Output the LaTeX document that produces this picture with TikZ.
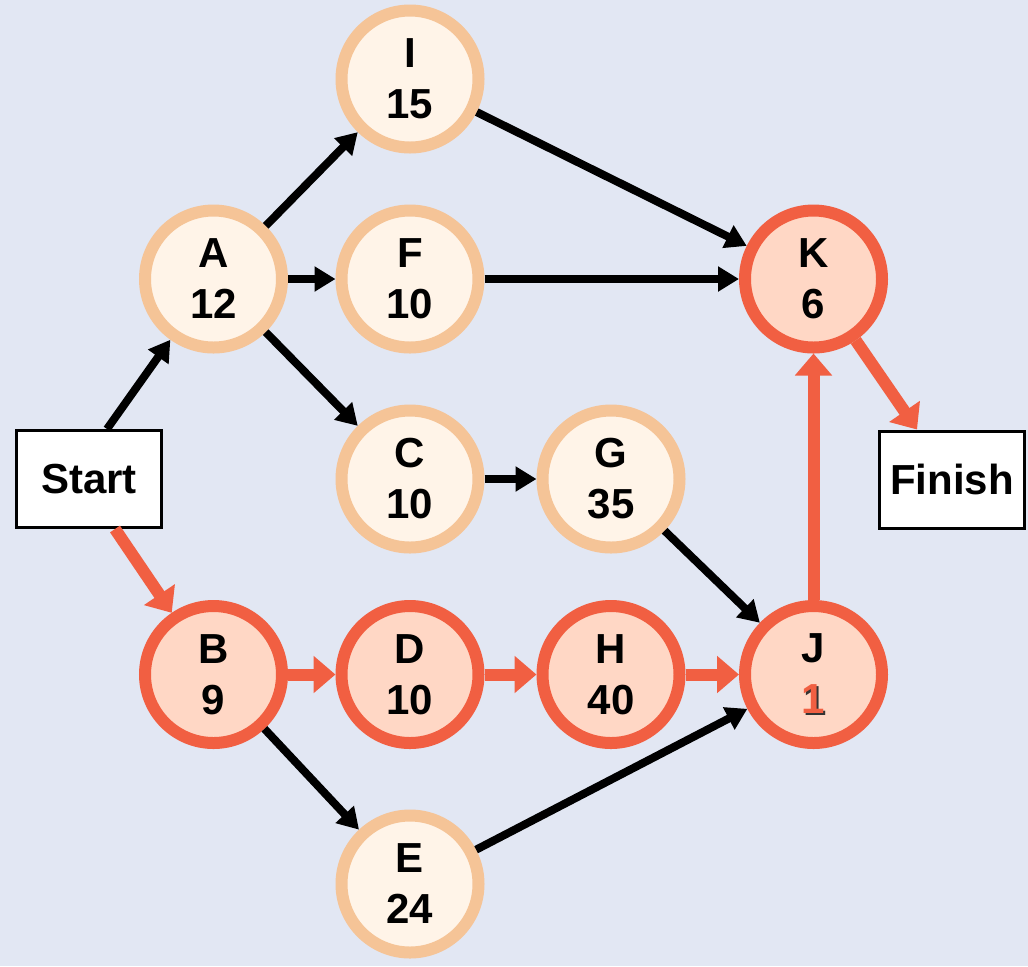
\documentclass[tikz,border=0pt]{standalone}
\usepackage{fontspec}
\setmainfont{Liberation Sans}
\usetikzlibrary{arrows.meta}
\definecolor{bgc}{RGB}{226,231,243}
\definecolor{actline}{RGB}{245,196,151}
\definecolor{actfill}{RGB}{255,244,232}
\definecolor{critline}{RGB}{241,95,66}
\definecolor{critfill}{RGB}{255,215,197}
\newcommand{\nodefont}{\bfseries\fontsize{21}{25.5}\selectfont}
\newcommand{\shad}[1]{\makebox[0pt][l]{\kern1pt\raisebox{-1pt}{\color{black!80}#1}}\textcolor{critline}{#1}}
\tikzset{
  act/.style ={circle, draw=actline, fill=actfill, line width=6pt, minimum size=68.5pt, inner sep=0pt, align=center, font=\nodefont},
  crit/.style={act, draw=critline, fill=critfill},
  term/.style={rectangle, draw=black, fill=white, line width=1.5pt, minimum width=72.5pt, minimum height=48.5pt, inner sep=0pt, font=\nodefont},
  e/.style   ={-{Triangle[length=10.5pt, width=12pt]}, line width=4pt, draw=black},
  ec/.style  ={-{Triangle[length=11pt, width=18pt]}, line width=6pt, draw=critline},
}
\begin{document}
\begin{tikzpicture}[x=0.5pt, y=-0.5pt]
\useasboundingbox (0,0) rectangle (1028,966);
\fill[bgc] (0,0) rectangle (1028,966);
%% ---------- terminals ----------
\node[term] (start)  at (89, 479)    {Start};
\node[term] (finish) at (952, 479.5) {Finish};
%% ---------- activities ----------
\node[act]  (i) at (410, 79)      {I\\15};
\node[act]  (a) at (213.5, 279)   {A\\12};
\node[act]  (f) at (410, 279)     {F\\10};
\node[crit] (k) at (813.5, 279)   {K\\6};
\node[act]  (c) at (410, 479)     {C\\10};
\node[act]  (g) at (611, 479)     {G\\35};
\node[crit] (b) at (213.5, 674.5) {B\\9};
\node[crit] (d) at (410, 674.5)   {D\\10};
\node[crit] (h) at (611, 674.5)   {H\\40};
\node[crit] (j) at (813.5, 674.5) {J\\\shad{1}};
\node[act]  (ee) at (410, 884)    {E\\24};
%% ---------- precedence links ----------
\draw[e] ([xshift=9pt]start.north) -- (a);
\draw[e] (a) -- (i);
\draw[e] (a) -- (f);
\draw[e] (a) -- (c);
\draw[e] (i) -- (k);
\draw[e] (f) -- (k);
\draw[e] (c) -- (g);
\draw[e] (g) -- (j);
\draw[e] (b) -- (ee);
\draw[e] (ee) -- (j);
% critical path
\draw[ec] ([xshift=13pt]start.south) -- (b);
\draw[ec] (b) -- (d);
\draw[ec] (d) -- (h);
\draw[ec] (h) -- (j);
\draw[ec] (j) -- (k);
\draw[ec] (k) -- ([xshift=-17.5pt]finish.north);
\end{tikzpicture}
\end{document}
